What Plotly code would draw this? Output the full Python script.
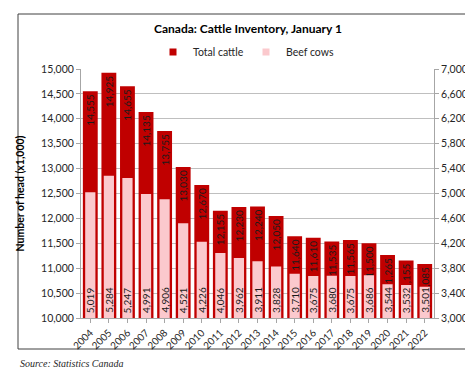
import plotly.graph_objects as go

years = [str(y) for y in range(2004, 2023)]
total_cattle = [14555, 14925, 14655, 14135, 13755, 13030, 12670, 12155, 12230, 12240,
                12050, 11640, 11610, 11535, 11565, 11500, 11265, 11155, 11085]
beef_cows = [5019, 5284, 5247, 4991, 4906, 4521, 4226, 4046, 3962, 3911,
             3828, 3710, 3675, 3680, 3675, 3686, 3544, 3532, 3501]

FONT = "Lato"
RED = "#C00000"
PINK = "#FBC9CD"
L, R, T, B = 73, 426, 61, 310
W, H = 473, 367
pw, ph = R - L, B - T
BEEF_BASE = 3000

def px(x):
    return (x - L) / pw

def py(y):
    return (B - y) / ph

fig = go.Figure()
fig.add_trace(go.Bar(
    x=years, y=total_cattle, name="Total cattle", showlegend=False,
    marker=dict(color=RED, line=dict(width=0)),
    width=0.8, yaxis="y",
    text=[f"{v:,}" for v in total_cattle], textposition="inside",
    insidetextanchor="end", textangle=-90, constraintext="none",
    textfont=dict(family=FONT, size=10, color="#1a1a1a"),
))
fig.add_trace(go.Bar(
    x=years, y=beef_cows, name="Beef cows", showlegend=False,
    marker=dict(color=PINK, line=dict(width=0)),
    width=0.55, yaxis="y2",
))
fig.add_trace(go.Scatter(x=[years[0]], y=[None], mode="markers", name="Total cattle",
                         marker=dict(symbol="square", size=7, color=RED), hoverinfo="skip"))
fig.add_trace(go.Scatter(x=[years[0]], y=[None], mode="markers", name="Beef cows",
                         marker=dict(symbol="square", size=7, color=PINK), hoverinfo="skip"))

# beef-cow value labels at the base of each bar (category axis uses index positions)
beef_labels = [dict(text=f"{v:,}", x=i, y=BEEF_BASE, xref="x", yref="y2",
                    textangle=-90, xanchor="center", yanchor="bottom", yshift=3,
                    showarrow=False, font=dict(family=FONT, size=10, color="#1a1a1a"))
               for i, v in enumerate(beef_cows)]

fig.update_layout(
    width=W, height=H,
    margin=dict(l=L, r=W - R, t=T, b=H - B),
    paper_bgcolor="white", plot_bgcolor="white",
    barmode="overlay",
    font=dict(family=FONT, size=10, color="#404040"),
    title=dict(text="<b>Canada: Cattle Inventory, January 1</b>",
               x=240 / W, xanchor="center", y=1 - 21 / H, yanchor="middle",
               yref="container", font=dict(family=FONT, size=12, color="#000000")),
    showlegend=True,
    legend=dict(orientation="h", x=px(145), xanchor="left", y=py(44), yanchor="middle",
                font=dict(family=FONT, size=10.5, color="#262626"),
                itemwidth=30, entrywidth=48, itemsizing="trace",
                bgcolor="rgba(0,0,0,0)", traceorder="normal"),
    xaxis=dict(type="category", categoryorder="array", categoryarray=years,
               range=[-0.5, len(years) - 0.5], tickangle=-45, ticks="outside",
               ticklen=4, tickcolor="#A6A6A6", showline=True, linecolor="#A6A6A6",
               showgrid=False, tickfont=dict(family=FONT, size=10, color="#262626")),
    yaxis=dict(range=[10000, 15000], dtick=500, tick0=10000, tickformat=",", ticks="outside",
               ticklen=4, tickcolor="#A6A6A6", showline=True, linecolor="#A6A6A6",
               gridcolor="#BFBFBF", gridwidth=1, zeroline=False,
               tickfont=dict(family=FONT, size=10.5, color="#262626"),
               title=dict(text="<b>Number of head (x1,000)</b>",
                          font=dict(family=FONT, size=10.5, color="#000000"), standoff=14)),
    yaxis2=dict(range=[3000, 7000], dtick=400, tick0=3000, tickformat=",", overlaying="y",
                side="right", ticks="outside", ticklen=4, tickcolor="#A6A6A6", showline=True,
                linecolor="#A6A6A6", showgrid=False, zeroline=False,
                tickfont=dict(family=FONT, size=10.5, color="#262626")),
    shapes=[dict(type="rect", xref="paper", yref="paper",
                 x0=px(10), x1=px(465), y0=py(341), y1=py(6),
                 line=dict(color="#404040", width=1), fillcolor="rgba(0,0,0,0)", layer="below")],
    annotations=beef_labels + [
        dict(text="<i>Source: Statistics Canada</i>", xref="paper", yref="paper",
             x=px(10), y=py(355), xanchor="left", yanchor="middle", showarrow=False,
             font=dict(family="Liberation Serif", size=10, color="#262626"))],
)

fig.write_html("out.html")
